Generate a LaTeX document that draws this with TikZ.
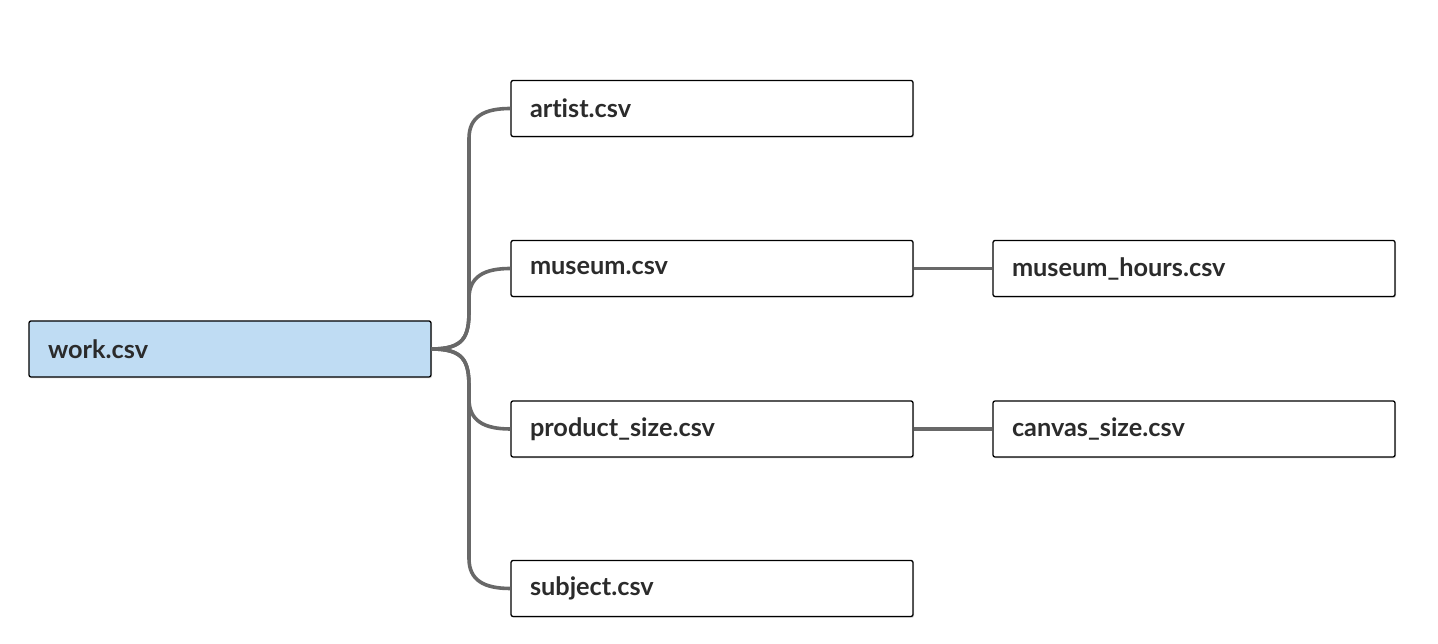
\documentclass[tikz,border=0pt]{standalone}
\usepackage{fontspec}
\setsansfont{Lato}[Ligatures=NoCommon]
\usetikzlibrary{shadows}
\definecolor{linkgray}{HTML}{686868}
\definecolor{rootblue}{HTML}{BFDCF3}
\definecolor{textdark}{HTML}{2B2B2B}
\tikzset{
	filebox/.style = {draw=black, line width=1.3pt, rounded corners=2pt, fill=white,
		minimum height=56pt, inner xsep=19pt, text width=364pt, align=left,
		font=\sffamily\bfseries\fontsize{25.3}{29}\selectfont, text=textdark,
		drop shadow={shadow xshift=1pt, shadow yshift=-1.5pt, opacity=.25}},
	branch/.style = {draw=linkgray, line width=3.6pt}
}
\begin{document}
\begin{tikzpicture}[x=1pt, y=1pt]
	\useasboundingbox (0,0) rectangle (1438,644);

	\node[filebox, fill=rootblue] (work) at (230,295) {work.csv};
	\node[filebox] (artist)  at (712,535.5) {artist.csv};
	\node[filebox] (museum)  at (712,375.5) {museum.csv};
	\node[filebox] (product) at (712,215)   {product\_size.csv};
	\node[filebox] (subject) at (712,55.5)  {subject.csv};
	\node[filebox] (hours)   at (1194,375.5) {museum\_hours.csv};
	\node[filebox] (canvas)  at (1194,215)   {canvas\_size.csv};

	\coordinate (trunk) at (469,0);

	% branches from work.csv
	\foreach \t/\s in {artist/1, museum/1, product/-1, subject/-1}
		\draw[branch] (work.east) .. controls +(32,0) and +(0,-\s*26) ..
			([yshift=\s*38pt]trunk |- work.east) --
			([yshift=-\s*30pt]trunk |- \t.west) .. controls +(0,\s*22) and +(-26,0) ..
			(\t.west);

	\draw[branch] (museum) -- (hours);
	\draw[branch] (product) -- (canvas);
\end{tikzpicture}
\end{document}
